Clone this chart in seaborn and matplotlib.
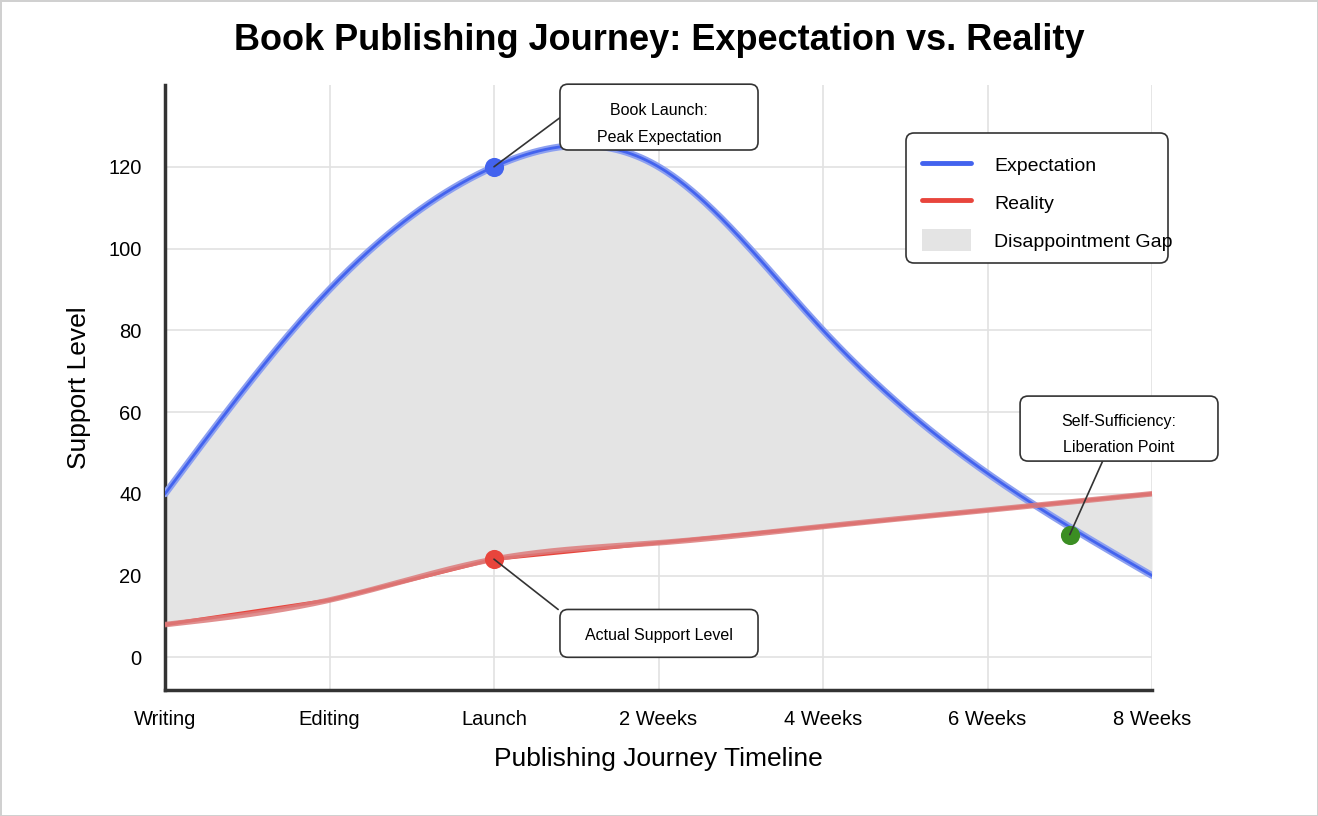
import matplotlib.pyplot as plt
import numpy as np
import pandas as pd
import seaborn as sns
from matplotlib.lines import Line2D
from matplotlib.patches import FancyBboxPatch, Patch

stages = ["Writing", "Editing", "Launch", "2 Weeks", "4 Weeks", "6 Weeks", "8 Weeks"]
expectation = [40, 90, 120, 120, 80, 45, 20]
reality = [8, 14, 24, 28, 32, 36, 40]
launch_idx = 2
liberation_pos = 5.5
liberation_value = 30

BLUE = "#4363ee"
RED = "#e8453c"
GREEN = "#3b8e23"
GAP = "#e4e4e4"


def natural_spline(y, n=600):
  # natural cubic spline on x = 0..len(y)-1
  y = np.asarray(y, dtype=float)
  k = len(y)
  A = np.zeros((k, k))
  b = np.zeros(k)
  A[0, 0] = A[-1, -1] = 1
  for i in range(1, k - 1):
    A[i, i - 1], A[i, i], A[i, i + 1] = 1, 4, 1
    b[i] = 6 * (y[i + 1] - 2 * y[i] + y[i - 1])
  m = np.linalg.solve(A, b)
  xs = np.linspace(0, k - 1, n)
  idx = np.clip(np.floor(xs).astype(int), 0, k - 2)
  t = xs - idx
  ys = (
    (1 - t) * y[idx] + t * y[idx + 1]
    + ((1 - t) ** 3 - (1 - t)) * m[idx] / 6
    + (t**3 - t) * m[idx + 1] / 6
  )
  return xs, ys


xs, exp_smooth = natural_spline(expectation)
_, real_smooth = natural_spline(reality)
smooth = pd.DataFrame({"x": xs, "Expectation": exp_smooth, "Reality": real_smooth})
raw = pd.DataFrame({"x": np.arange(len(stages)), "Expectation": expectation, "Reality": reality})

sns.set_style("whitegrid", {"grid.color": "#e2e2e2", "axes.edgecolor": "#333333"})
plt.rcParams["font.family"] = ["Liberation Sans", "DejaVu Sans"]
plt.rcParams["text.color"] = "black"
plt.rcParams["axes.labelcolor"] = "black"

W, H = 1318, 816
fig = plt.figure(figsize=(W / 100, H / 100), dpi=100)
fig.patch.set_edgecolor("#d0d0d0")
fig.patch.set_linewidth(2)
ax = fig.add_axes([165 / W, 1 - 690 / H, (1152 - 165) / W, (690 - 85) / H])

ax.fill_between(smooth["x"], smooth["Reality"], smooth["Expectation"], color=GAP, lw=0, zorder=1)

sns.lineplot(data=smooth, x="x", y="Expectation", ax=ax, color="#8da0f0", lw=5, zorder=3)
sns.lineplot(data=smooth, x="x", y="Expectation", ax=ax, color=BLUE, lw=2, zorder=4)
sns.lineplot(data=raw, x="x", y="Reality", ax=ax, color=RED, lw=2.5, zorder=3)
sns.lineplot(data=smooth, x="x", y="Reality", ax=ax, color="#dc7c7c", lw=4, alpha=0.85, zorder=4)

sns.scatterplot(x=[launch_idx], y=[expectation[launch_idx]], ax=ax, color=BLUE, s=190, lw=0, zorder=6)
sns.scatterplot(x=[launch_idx], y=[reality[launch_idx]], ax=ax, color=RED, s=190, lw=0, zorder=6)
sns.scatterplot(x=[liberation_pos], y=[liberation_value], ax=ax, color=GREEN, s=190, lw=0, zorder=6)

# data units per pixel, used for the rounded callout boxes
PX_X = 1 / 164.5
PX_Y = 1 / 4.1


def callout(text, box, edge, target, text_dy):
  x0, x1, y0, y1 = box
  patch = FancyBboxPatch(
    (x0, y0), x1 - x0, y1 - y0,
    boxstyle=f"round,pad=0,rounding_size={8 * PX_X}",
    mutation_aspect=PX_Y / PX_X,
    facecolor="white", edgecolor="#333333", lw=1.2, clip_on=False, zorder=8,
  )
  ax.add_patch(patch)
  ax.text((x0 + x1) / 2, (y0 + y1) / 2 - text_dy * PX_Y, text, ha="center", va="center",
          fontsize=11.5, linespacing=1.95, zorder=9)
  ax.annotate("", xy=target, xytext=edge, annotation_clip=False,
              arrowprops=dict(arrowstyle="-", color="#333333", lw=1.2, shrinkA=0, shrinkB=0),
              zorder=7)


callout("Book Launch:\nPeak Expectation", (2.401, 3.605, 124.1, 140.2), (2.401, 132),
        (launch_idx, expectation[launch_idx]), 7)
callout("Actual Support Level", (2.401, 3.605, 0.0, 11.7), (2.39, 11.7),
        (launch_idx, reality[launch_idx]), 2)
callout("Self-Sufficiency:\nLiberation Point", (5.198, 6.401, 48.0, 63.9), (5.70, 48.0),
        (liberation_pos, liberation_value), 6)

ax.set_xlim(0, len(stages) - 1)
ax.set_ylim(-8, 140)
ax.set_xticks(range(len(stages)))
ax.set_xticklabels(stages)
ax.set_yticks(range(0, 121, 20))
ax.tick_params(axis="both", length=0, labelsize=14.5, colors="black")
ax.tick_params(axis="y", pad=17)
ax.tick_params(axis="x", pad=14.5)
ax.set_xlabel("Publishing Journey Timeline", fontsize=19, labelpad=13)
ax.set_ylabel("Support Level", fontsize=19, labelpad=12)
for side in ["top", "right"]:
  ax.spines[side].set_visible(False)
for side in ["left", "bottom"]:
  ax.spines[side].set_linewidth(2.5)
  ax.spines[side].set_color("#333333")
ax.grid(True, color="#e2e2e2", lw=1.2)

fig.suptitle("Book Publishing Journey: Expectation vs. Reality", fontsize=26,
             fontweight="bold", y=1 - 40 / H, va="center")

# legend frame drawn separately so the long label can run over it like the original
frame = FancyBboxPatch(
  (906 / W, 1 - 263 / H), 262 / W, 130 / H,
  boxstyle=f"round,pad=0,rounding_size={8 / W}", mutation_aspect=W / H,
  transform=fig.transFigure, facecolor="white", edgecolor="#333333", lw=1.2,
  clip_on=False, zorder=9,
)
ax.add_patch(frame)

handles = [
  Line2D([], [], color=BLUE, lw=3.5),
  Line2D([], [], color=RED, lw=3.5),
  Patch(facecolor=GAP, edgecolor="none"),
]
leg = ax.legend(
  handles, ["Expectation", "Reality", "Disappointment Gap"],
  loc="upper left", bbox_to_anchor=(922 / W, 1 - 154 / H), bbox_transform=fig.transFigure,
  fontsize=14, frameon=False, borderpad=0, borderaxespad=0,
  handlelength=2.5, handleheight=1.3, handletextpad=1.2, labelspacing=0.85,
)
leg.set_zorder(10)

fig.savefig("out.png", dpi=100, facecolor="white", edgecolor=fig.patch.get_edgecolor())
